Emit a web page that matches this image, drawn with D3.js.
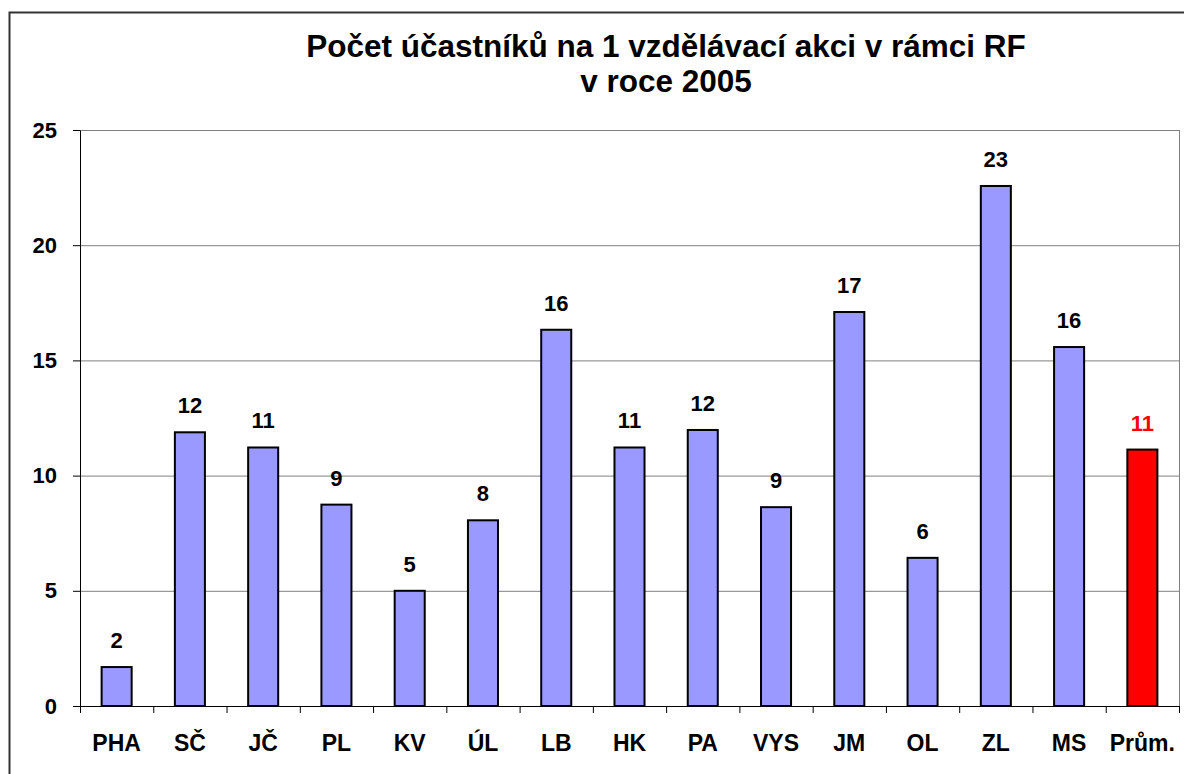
<!DOCTYPE html>
<html>
<head>
<meta charset="utf-8">
<script src="https://cdn.jsdelivr.net/npm/d3@7"></script>
<style>
  body { margin: 0; background: #fff; }
  text { font-family: Arial, "Liberation Sans", sans-serif; font-weight: bold; }
</style>
</head>
<body>
<div id="chart"></div>
<script>
// data
const categories = ["PHA", "SČ", "JČ", "PL", "KV", "ÚL", "LB", "HK", "PA", "VYS", "JM", "OL", "ZL", "MS", "Prům."];
const values = [1.69, 11.88, 11.22, 8.74, 5.0, 8.06, 16.33, 11.22, 11.98, 8.63, 17.1, 6.43, 22.57, 15.58, 11.13];
const labels = ["2", "12", "11", "9", "5", "8", "16", "11", "12", "9", "17", "6", "23", "16", "11"];
const yTicks = [0, 5, 10, 15, 20, 25];
const titleLines = ["Počet účastníků na 1 vzdělávací akci v rámci RF", "v roce 2005"];

const W = 1184, H = 774;
const margin = {top: 130, right: 5, bottom: 68, left: 80};
const width = W - margin.left - margin.right;
const height = H - margin.top - margin.bottom;

const svg = d3.select("#chart").append("svg")
    .attr("width", W)
    .attr("height", H);

// outer chart frame (runs off the right and bottom edge)
svg.append("rect")
    .attr("x", 9.5).attr("y", 12.5)
    .attr("width", 1300).attr("height", 900)
    .attr("fill", "none")
    .attr("stroke", "#333")
    .attr("stroke-width", 2);

// title
svg.append("text")
    .attr("x", 666)
    .attr("y", 57)
    .attr("text-anchor", "middle")
    .style("font-size", "31.5px")
    .selectAll("tspan")
    .data(titleLines)
    .enter().append("tspan")
    .attr("x", 666)
    .attr("dy", (d, i) => i === 0 ? 0 : 35)
    .text(d => d);

const g = svg.append("g")
    .attr("transform", "translate(" + margin.left + "," + margin.top + ")");

const xScale = d3.scaleBand()
    .domain(categories)
    .range([0, width])
    .paddingInner(0.59)
    .paddingOuter(0.295);

const yScale = d3.scaleLinear()
    .domain([0, 25])
    .range([height, 0]);

// gridlines
g.selectAll(".grid")
    .data(yTicks.slice(1))
    .enter().append("line")
    .attr("x1", 0).attr("x2", width)
    .attr("y1", d => yScale(d) + 0.5).attr("y2", d => yScale(d) + 0.5)
    .attr("stroke", "#808080")
    .attr("stroke-width", 1);

// right border of plot
g.append("line")
    .attr("x1", width + 0.5).attr("x2", width + 0.5)
    .attr("y1", 0).attr("y2", height)
    .attr("stroke", "#808080");

// y axis
const yAxis = g.append("g")
    .call(d3.axisLeft(yScale).tickValues(yTicks).tickSize(7).tickPadding(16).tickSizeOuter(0));
yAxis.select(".domain").attr("stroke", "#000");
yAxis.selectAll("text").style("font-size", "22px").attr("fill", "#000");

// x axis: ticks sit on band edges
const xAxis = g.append("g")
    .attr("transform", "translate(0," + height + ")");
xAxis.append("line")
    .attr("x1", -7).attr("x2", width)
    .attr("y1", 0.5).attr("y2", 0.5)
    .attr("stroke", "#000");
const step = xScale.step();
xAxis.selectAll(".xtick")
    .data(d3.range(categories.length + 1))
    .enter().append("line")
    .attr("x1", i => xScale(categories[0]) - xScale.paddingOuter() * step + i * step + 0.5)
    .attr("x2", i => xScale(categories[0]) - xScale.paddingOuter() * step + i * step + 0.5)
    .attr("y1", 0).attr("y2", 7)
    .attr("stroke", "#000");
xAxis.selectAll(".xlabel")
    .data(categories)
    .enter().append("text")
    .attr("x", d => xScale(d) + xScale.bandwidth() / 2)
    .attr("y", 45)
    .attr("text-anchor", "middle")
    .style("font-size", "23px")
    .text(d => d);

// bars
g.selectAll(".bar")
    .data(values)
    .enter().append("rect")
    .attr("x", (d, i) => xScale(categories[i]))
    .attr("y", d => yScale(d))
    .attr("width", xScale.bandwidth())
    .attr("height", d => height - yScale(d))
    .attr("fill", (d, i) => i === values.length - 1 ? "#ff0000" : "#9999ff")
    .attr("stroke", "#000")
    .attr("stroke-width", 2);

// value labels
g.selectAll(".val")
    .data(values)
    .enter().append("text")
    .attr("x", (d, i) => xScale(categories[i]) + xScale.bandwidth() / 2)
    .attr("y", d => yScale(d) - 19)
    .attr("text-anchor", "middle")
    .attr("fill", (d, i) => i === values.length - 1 ? "#ff0000" : "#000")
    .style("font-size", "22px")
    .text((d, i) => labels[i]);
</script>
</body>
</html>
